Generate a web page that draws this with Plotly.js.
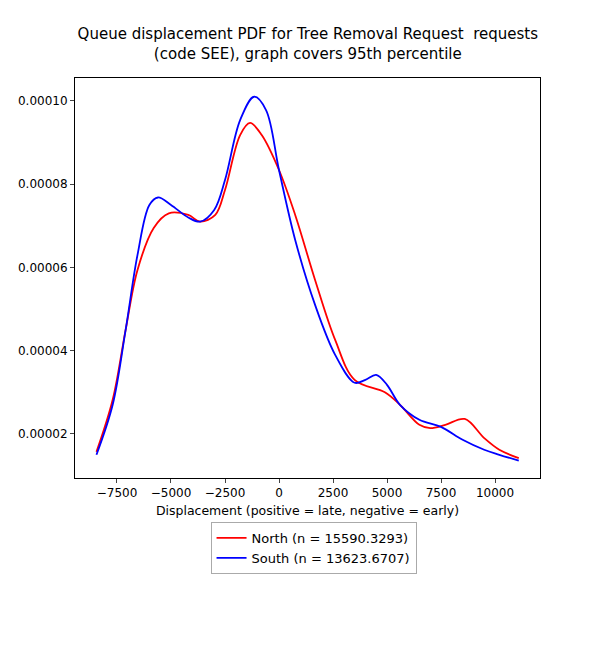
<html>
<head>
<script src="https://cdn.plot.ly/plotly-3.0.1.min.js"></script>
</head>
<body style="margin:0">
<div id="plot" style="width:600px;height:650px"></div>
<script>
const northX = [-8450, -7700, -7100, -6550, -5800, -5100, -4200, -3650, -2950, -2500, -1800, -1340, -800, 0, 750, 1670, 2600, 3500, 4900, 5600, 6500, 7000, 7700, 8600, 9500, 10200, 11100];
const northY = [1.57e-5, 2.82e-5, 4.5e-5, 5.94e-5, 6.95e-5, 7.3e-5, 7.26e-5, 7.1e-5, 7.26e-5, 7.86e-5, 9.18e-5, 9.47e-5, 9.18e-5, 8.34e-5, 7.26e-5, 5.7e-5, 4.26e-5, 3.3e-5, 3.0e-5, 2.7e-5, 2.22e-5, 2.14e-5, 2.22e-5, 2.36e-5, 1.9e-5, 1.62e-5, 1.42e-5];
const southX = [-8450, -7700, -7100, -6550, -6000, -5600, -5000, -4200, -3650, -3000, -2500, -1800, -1150, -600, 0, 750, 1670, 2600, 3500, 4000, 4500, 5000, 5600, 6500, 7500, 8500, 9500, 10200, 11100];
const southY = [1.5e-5, 2.7e-5, 4.5e-5, 6.3e-5, 7.5e-5, 7.68e-5, 7.5e-5, 7.2e-5, 7.1e-5, 7.38e-5, 8.1e-5, 9.54e-5, 1.01e-4, 9.78e-5, 8.34e-5, 6.66e-5, 5.1e-5, 3.9e-5, 3.23e-5, 3.3e-5, 3.42e-5, 3.18e-5, 2.7e-5, 2.34e-5, 2.17e-5, 1.86e-5, 1.62e-5, 1.5e-5, 1.36e-5];

const data = [
    {x: northX, y: northY, name: "North (n = 15590.3293)", mode: "lines",
     line: {color: "red", width: 1.8, shape: "spline"}},
    {x: southX, y: southY, name: "South (n = 13623.6707)", mode: "lines",
     line: {color: "blue", width: 1.8, shape: "spline"}},
];

const layout = {
    width: 600, height: 650,
    font: {family: "DejaVu Sans", size: 12, color: "black"},
    paper_bgcolor: "white", plot_bgcolor: "white",
    margin: {l: 75, r: 60, t: 78, b: 172},
    title: {text: "Queue displacement PDF for Tree Removal Request  requests<br>(code SEE), graph covers 95th percentile",
            font: {size: 15}, x: 0.513, xanchor: "center", y: 0.94, yanchor: "top"},
    xaxis: {range: [-9444, 12083], tickvals: [-7500, -5000, -2500, 0, 2500, 5000, 7500, 10000],
            ticktext: ["−7500", "−5000", "−2500", "0", "2500", "5000", "7500", "10000"],
            ticks: "outside", ticklen: 4, showgrid: false, zeroline: false,
            showline: true, mirror: true, linecolor: "black", linewidth: 1,
            title: {text: "Displacement (positive = late, negative = early)", standoff: 6, font: {size: 12.5}}},
    yaxis: {range: [0.00000942, 0.0001055], tickvals: [2e-5, 4e-5, 6e-5, 8e-5, 1e-4],
            ticktext: ["0.00002", "0.00004", "0.00006", "0.00008", "0.00010"],
            ticks: "outside", ticklen: 4, showgrid: false, zeroline: false,
            showline: true, mirror: true, linecolor: "black", linewidth: 1},
    showlegend: true,
    legend: {x: 0.513, xanchor: "center", y: -0.11, yanchor: "top",
             bordercolor: "#aaa", borderwidth: 1, bgcolor: "white", font: {size: 13},
             tracegroupgap: 2},
};

Plotly.newPlot("plot", data, layout, {displayModeBar: false});
</script>
</body>
</html>
